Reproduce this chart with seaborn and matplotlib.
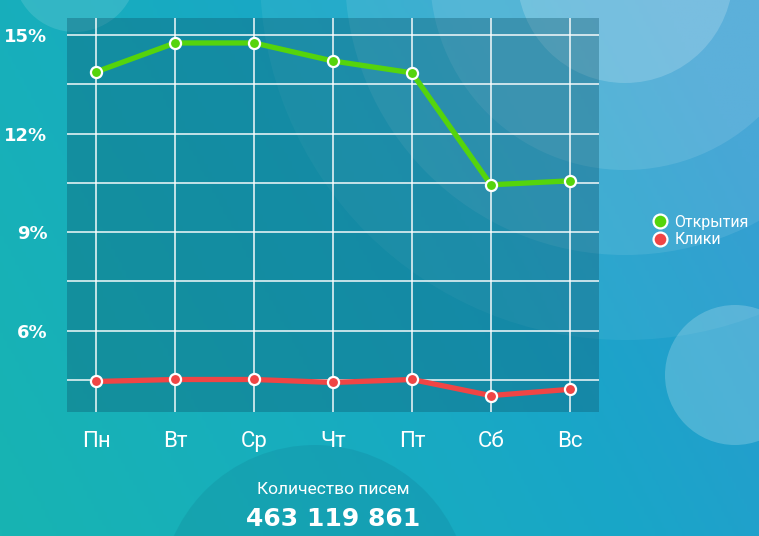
import numpy as np
import pandas as pd
import matplotlib
matplotlib.use("Agg")
import matplotlib.pyplot as plt
from matplotlib.patches import Circle
from matplotlib.lines import Line2D
from matplotlib.colors import LinearSegmentedColormap
import seaborn as sns

# Data
days = ["Пн", "Вт", "Ср", "Чт", "Пт", "Сб", "Вс"]
opens = [13.88, 14.76, 14.76, 14.21, 13.85, 10.44, 10.56]
clicks = [4.45, 4.51, 4.51, 4.42, 4.51, 4.02, 4.21]
series_names = ["Открытия", "Клики"]
y_labels = {6: "6%", 9: "9%", 12: "12%", 15: "15%"}
total_label = "Количество писем"
total_value = "463 119 861"

df = pd.DataFrame({
    "day": days * 2,
    "value": opens + clicks,
    "series": [series_names[0]] * len(days) + [series_names[1]] * len(days),
})

sns.set_theme(style="white")
plt.rcParams["font.family"] = ["Roboto", "DejaVu Sans"]

W, H = 759, 536
fig = plt.figure(figsize=(W / 100, H / 100), dpi=100)

# background with gradient and circles
bg = fig.add_axes([0, 0, 1, 1], zorder=0)
bg.set_xlim(0, W)
bg.set_ylim(H, 0)
bg.axis("off")
cmap = LinearSegmentedColormap.from_list("bg", ["#18b4b2", "#17aebd", "#19a6c8", "#2a9ad0"])
gx, gy = np.meshgrid(np.linspace(0, 1, 200), np.linspace(0, 1, 200))
grad = np.clip(gx * 0.8 + (1 - gy) * 0.3, 0, 1)
bg.imshow(grad, cmap=cmap, extent=[0, W, H, 0], aspect="auto", origin="upper")

for r, a in [(365, 0.06), (280, 0.09), (195, 0.11), (108, 0.18)]:
    bg.add_patch(Circle((625, -25), r, color="white", alpha=a, lw=0))
bg.add_patch(Circle((75, -30), 62, color="white", alpha=0.12, lw=0))
bg.add_patch(Circle((735, 375), 70, color="white", alpha=0.2, lw=0))
bg.add_patch(Circle((315, 600), 155, color="#0a5f7a", alpha=0.15, lw=0))

# main chart
ax = fig.add_axes([67 / W, 1 - 412 / H, (599 - 67) / W, (412 - 18) / H], zorder=1)
ax.set_facecolor((0.05, 0.33, 0.42, 0.35))
palette = {series_names[0]: "#55d40c", series_names[1]: "#f04545"}
sns.lineplot(data=df, x="day", y="value", hue="series", palette=palette,
             sort=False, linewidth=3.8, marker="o", markersize=8,
             markeredgecolor="white", markeredgewidth=1.6, legend=False, ax=ax)

narrow = dict(family="DejaVu Sans", fontweight="bold")
ax.set_xlim(-0.37, 6.37)
ax.set_ylim(3.52, 15.52)
yt = np.arange(4.5, 15.01, 1.5)
ax.set_yticks(yt)
ax.set_yticklabels([y_labels.get(int(v), "") if v % 3 == 0 else "" for v in yt],
                   fontsize=13, color="white", **narrow)
ax.tick_params(axis="y", length=0, pad=14)
ax.set_xticks(range(len(days)))
ax.set_xticklabels(days, fontsize=16, color="white")
ax.tick_params(axis="x", length=0, pad=14)
ax.grid(True, color="white", linewidth=1.3, alpha=0.8)
ax.set_xlabel("")
ax.set_ylabel("")
for s in ax.spines.values():
    s.set_visible(False)

# legend
handles = [Line2D([], [], linestyle="none", marker="o", markersize=10,
                  markerfacecolor=palette[n], markeredgecolor="white", markeredgewidth=1.6)
           for n in series_names]
leg = fig.legend(handles, series_names, loc="center left",
                 bbox_to_anchor=(636 / W, 1 - 231 / H), frameon=False,
                 fontsize=11.5, labelspacing=0.15, handletextpad=0.3, handlelength=1.2)
for t in leg.get_texts():
    t.set_color("white")

fig.text(333 / W, 1 - 490 / H, total_label, ha="center", va="center",
         fontsize=12.5, color="white")
fig.text(333 / W, 1 - 519 / H, total_value, ha="center", va="center",
         fontsize=18, color="white", **narrow)

fig.savefig("out.png", dpi=100)
